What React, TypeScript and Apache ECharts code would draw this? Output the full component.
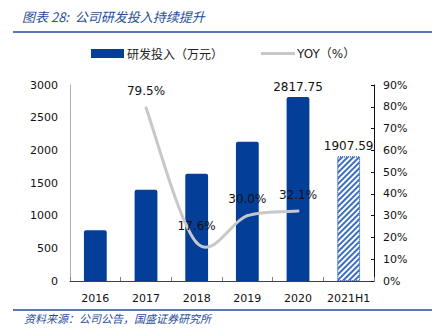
import React, { useEffect, useRef } from "react";
import * as echarts from "echarts";

const categories = ["2016", "2017", "2018", "2019", "2020", "2021H1"];
const rdValues = [777, 1395, 1641, 2133, 2817.75, 1907.59];
const yoyValues: (number | null)[] = [null, 79.5, 17.6, 30.0, 32.1, null];
const titleText = "图表 28:  公司研发投入持续提升";
const sourceText = "资料来源：公司公告，国盛证券研究所";
const barName = "研发投入（万元）";
const lineName = "YOY（%）";

const BLUE = "#033f98";
const TITLE_BLUE = "#1f4e9a";
const LINE_GRAY = "#c8c8c8";
const FONT = "DejaVu Sans, Noto Sans CJK SC, sans-serif";

export default function App() {
  const ref = useRef<HTMLDivElement>(null);
  useEffect(() => {
    if (!ref.current) return;
    const chart = echarts.init(ref.current, undefined, { renderer: "svg" });
    const barData = rdValues.map((v, i) =>
      i === rdValues.length - 1
        ? {
            value: v,
            itemStyle: {
              color: "#ffffff",
              borderColor: "#4472c4",
              borderWidth: 1,
              borderType: "dotted",
              borderRadius: 0,
              decal: {
                symbol: "rect",
                symbolSize: 1,
                dashArrayX: [1, 0],
                dashArrayY: [1.2, 2],
                rotation: -Math.PI / 4,
                color: "#3c6fc0",
              },
            },
            label: { show: true },
          }
        : { value: v, label: { show: i === 4 } }
    );
    const yoyPoints: [number, number][] = [];
    yoyValues.forEach((v, i) => {
      if (v !== null) yoyPoints.push([i, v]);
    });
    chart.setOption({
      animation: false,
      textStyle: { fontFamily: FONT },
      grid: { left: 70, right: 61, top: 85, bottom: 48, containLabel: false },
      xAxis: {
        type: "category",
        data: categories,
        axisLine: { lineStyle: { color: "#404040", width: 1 } },
        axisTick: { show: true, inside: true, length: 4, alignWithLabel: false, lineStyle: { color: "#808080" } },
        axisLabel: { fontSize: 11, color: "#111", margin: 12, interval: 0, fontFamily: FONT },
      },
      yAxis: [
        {
          type: "value",
          min: 0,
          max: 3000,
          interval: 500,
          splitLine: { show: false },
          axisLine: { show: true, lineStyle: { color: "#b0b0b0" } },
          axisTick: { show: false },
          axisLabel: { fontSize: 11, color: "#111", margin: 12, fontFamily: FONT, formatter: (v: number) => String(v) },
        },
        {
          type: "value",
          min: 0,
          max: 90,
          interval: 10,
          position: "right",
          splitLine: { show: false },
          axisLine: { show: true, lineStyle: { color: "#111" } },
          axisTick: { show: true, inside: true, length: 3, lineStyle: { color: "#111" } },
          axisLabel: { fontSize: 11, color: "#111", margin: 9, formatter: "{value}%", fontFamily: FONT },
        },
      ],
      series: [
        {
          name: barName,
          type: "bar",
          data: barData,
          barWidth: "45%",
          itemStyle: { color: BLUE, borderRadius: [2, 2, 0, 0] },
          label: { show: false, position: "top", fontSize: 12, color: "#111", distance: 4, fontFamily: FONT },
        },
        {
          name: lineName + "-curve",
          type: "custom",
          yAxisIndex: 1,
          data: yoyPoints,
          z: 4,
          renderItem: (params: any, api: any) => {
            const i = params.dataIndex;
            if (i >= yoyPoints.length - 1) return null;
            const P = yoyPoints.map((p) => api.coord(p));
            const p0 = P[Math.max(i - 1, 0)];
            const p1 = P[i];
            const p2 = P[i + 1];
            const p3 = P[Math.min(i + 2, P.length - 1)];
            return {
              type: "bezierCurve",
              shape: {
                x1: p1[0],
                y1: p1[1],
                cpx1: p1[0] + (p2[0] - p0[0]) / 6,
                cpy1: p1[1] + (p2[1] - p0[1]) / 6,
                cpx2: p2[0] - (p3[0] - p1[0]) / 6,
                cpy2: p2[1] - (p3[1] - p1[1]) / 6,
                x2: p2[0],
                y2: p2[1],
              },
              style: { stroke: LINE_GRAY, lineWidth: 3, fill: null, lineCap: "round" },
            };
          },
        },
        {
          name: lineName,
          type: "line",
          yAxisIndex: 1,
          data: yoyValues,
          symbol: "circle",
          symbolSize: 1,
          showSymbol: true,
          lineStyle: { color: LINE_GRAY, width: 0, opacity: 0 },
          itemStyle: { color: "rgba(200,200,200,0)" },
          label: {
            show: true,
            position: "top",
            distance: 10,
            fontSize: 12,
            color: "#111",
            formatter: (p: any) => Number(p.value).toFixed(1) + "%",
            fontFamily: FONT,
          },
          z: 5,
        },
      ],
      graphic: [
        {
          type: "text",
          left: 22,
          top: 10,
          style: {
            text: titleText,
            fill: TITLE_BLUE,
            font: "italic 13px 'Noto Sans CJK SC', sans-serif",
          },
        },
        {
          type: "line",
          shape: { x1: 13, y1: 32, x2: 432, y2: 32 },
          style: { stroke: TITLE_BLUE, lineWidth: 1.5 },
        },
        {
          type: "rect",
          shape: { x: 91, y: 49, width: 33, height: 9 },
          style: { fill: BLUE },
        },
        {
          type: "text",
          x: 127,
          y: 53.5,
          style: { text: barName, fill: "#222", font: "12px 'Noto Sans CJK SC', sans-serif", verticalAlign: "middle" },
        },
        {
          type: "line",
          shape: { x1: 261, y1: 53.5, x2: 295, y2: 53.5 },
          style: { stroke: LINE_GRAY, lineWidth: 3 },
        },
        {
          type: "text",
          x: 297,
          y: 53.5,
          style: { text: lineName, fill: "#222", font: "12px 'DejaVu Sans', 'Noto Sans CJK SC', sans-serif", verticalAlign: "middle" },
        },
        {
          type: "line",
          shape: { x1: 13, y1: 310, x2: 432, y2: 310 },
          style: { stroke: TITLE_BLUE, lineWidth: 1.5 },
        },
        {
          type: "text",
          left: 24,
          top: 312,
          style: {
            text: sourceText,
            fill: TITLE_BLUE,
            font: "italic 11px 'Noto Sans CJK SC', sans-serif",
          },
        },
      ],
    });
    return () => chart.dispose();
  }, []);
  return (
    <div
      ref={ref}
      style={{ width: 435, height: 329, position: "absolute", left: 0, top: 0, background: "#fff" }}
    />
  );
}
